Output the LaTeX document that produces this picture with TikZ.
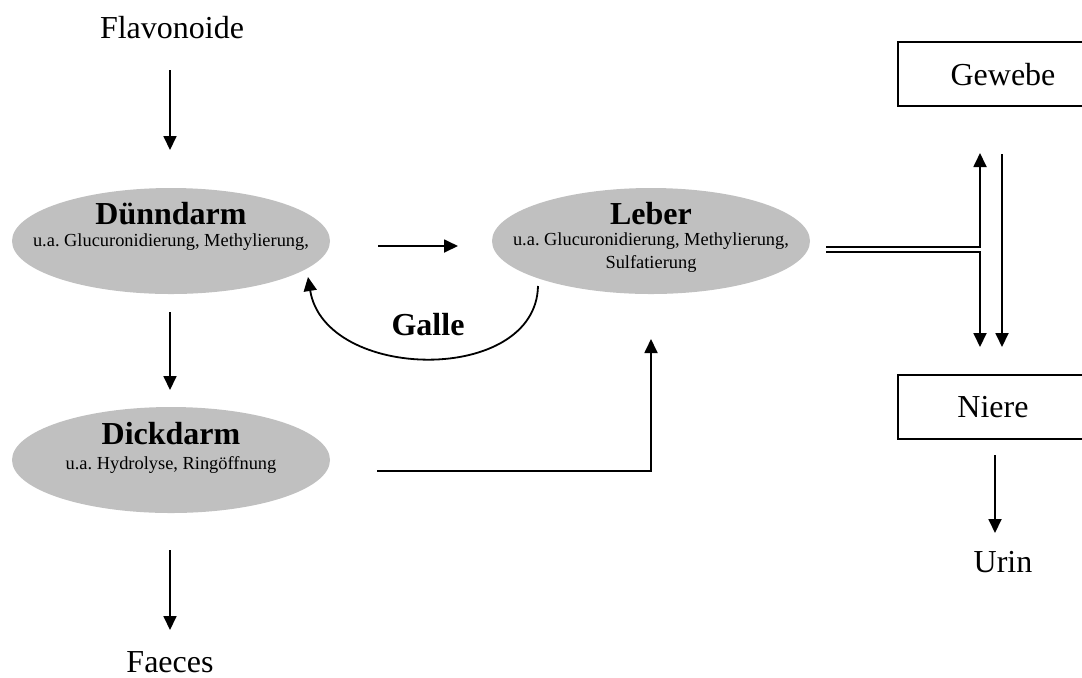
\documentclass[tikz,border=0pt]{standalone}
\usepackage{fontspec}
\setmainfont{Liberation Serif}
\usetikzlibrary{arrows.meta,shapes.geometric}
\definecolor{organgray}{HTML}{C0C0C0}
\frenchspacing
\begin{document}
\begin{tikzpicture}[x=0.5pt,y=-0.5pt,
  organ/.style={ellipse, fill=organgray, draw=none, minimum width=159pt, minimum height=53pt, inner sep=0pt},
  title/.style={font=\fontsize{16}{19}\selectfont\bfseries, inner sep=0pt},
  sub/.style={font=\fontsize{9.2}{11.5}\selectfont, inner sep=0pt, align=center},
  lbl/.style={font=\fontsize{16}{19}\selectfont, inner sep=0pt},
  box/.style={draw, line width=0.9pt, minimum width=106pt, minimum height=32pt, inner sep=0pt},
  arr/.style={line width=0.9pt, -{Triangle[length=7pt,width=6.5pt]}},
  ln/.style={line width=0.9pt}]
\clip (0,0) rectangle (1082,677);
% labels
\node[lbl] (flav) at (172,28) {Flavonoide};
\node[lbl] (faec) at (170,662) {Faeces};
\node[lbl] (urin) at (1003,562) {Urin};
% organs
\node[organ] (dd) at (171,241) {};
\node[title] (ddt) at (171,214) {Dünndarm};
\node[sub] (dds) at (171,242) {u.a. Glucuronidierung, Methylierung,};
\node[organ] (leb) at (651,241) {};
\node[title] (lebt) at (651,214) {Leber};
\node[sub] (lebs) at (651,253) {u.a. Glucuronidierung, Methylierung,\\Sulfatierung};
\node[organ] (dick) at (171,460) {};
\node[title] (dickt) at (171,434) {Dickdarm};
\node[sub] (dicks) at (171,465) {u.a. Hydrolyse, Ringöffnung};
% boxes
\node[box] (gew) at (1004,74) {};
\node[lbl] (gewt) at (1003,75) {Gewebe};
\node[box] (nie) at (1004,407) {};
\node[lbl] (niet) at (993,407) {Niere};
\node[title] (galle) at (428,325) {Galle};
% connector end points
\coordinate (f1) at (170,70);  \coordinate (f2) at (170,150);
\coordinate (d1) at (170,312); \coordinate (d2) at (170,390);
\coordinate (k1) at (170,550); \coordinate (k2) at (170,630);
\coordinate (l1) at (378,246); \coordinate (l2) at (458,246);
\coordinate (g1) at (538,286); \coordinate (g2) at (308,277);
\coordinate (h1) at (377,471); \coordinate (h2) at (651,471); \coordinate (h3) at (651,339);
\coordinate (t1) at (826,247); \coordinate (t2) at (980,247); \coordinate (t3) at (980,153);
\coordinate (b1) at (826,252); \coordinate (b2) at (980,252); \coordinate (b3) at (980,347);
\coordinate (r1) at (1002,154); \coordinate (r2) at (1002,347);
\coordinate (u1) at (995,455); \coordinate (u2) at (995,533);
% connectors
\draw[arr] (f1) -- (f2);
\draw[arr] (d1) -- (d2);
\draw[arr] (k1) -- (k2);
\draw[arr] (l1) -- (l2);
\draw[arr] (g1) .. controls (536,385) and (325,382) .. (g2);
\draw[arr] (h1) -- (h2) -- (h3);
\draw[arr] (t1) -- (t2) -- (t3);
\draw[arr] (b1) -- (b2) -- (b3);
\draw[arr] (r1) -- (r2);
\draw[arr] (u1) -- (u2);
\end{tikzpicture}
\end{document}
